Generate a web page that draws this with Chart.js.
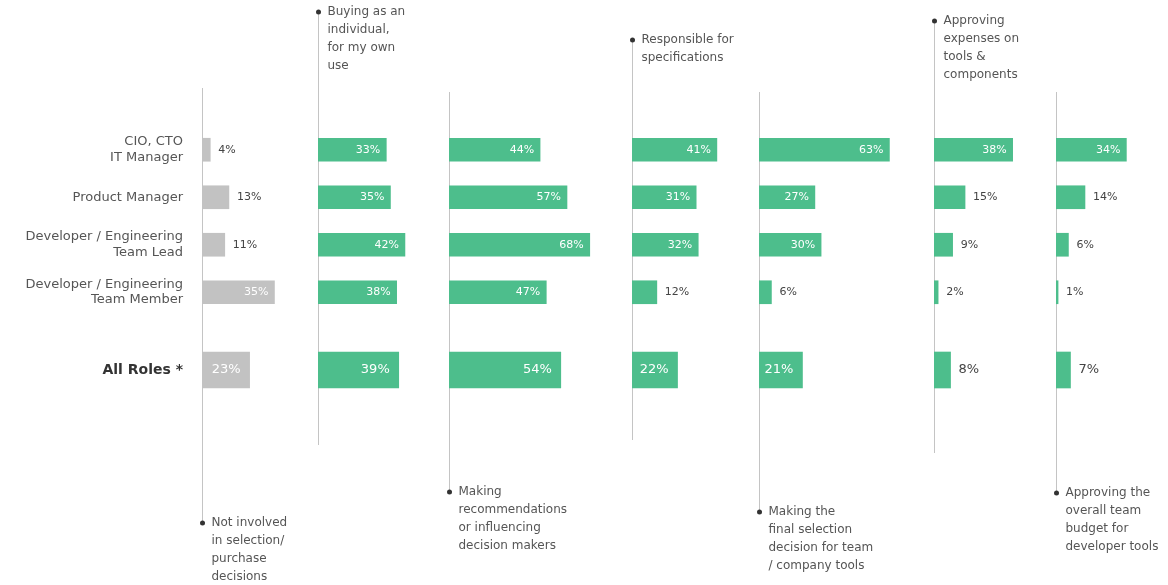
<!DOCTYPE html>
<html>
<head>
<meta charset="utf-8">
<script src="https://cdn.jsdelivr.net/npm/chart.js@4.4.1/dist/chart.umd.min.js"></script>
<style>
  html, body { margin: 0; padding: 0; background: #fff; }
</style>
</head>
<body>
<canvas id="chart" width="1168" height="585"></canvas>
<script>
// Rows (roles)
var roles = [['CIO, CTO', 'IT Manager'], 'Product Manager', ['Developer / Engineering', 'Team Lead'], ['Developer / Engineering', 'Team Member']];
var allRoles = ['All Roles *'];

// Columns (kind of involvement)
var involvement = [
  ['Not involved', 'in selection/', 'purchase', 'decisions'],
  ['Buying as an', 'individual,', 'for my own', 'use'],
  ['Making', 'recommendations', 'or influencing', 'decision makers'],
  ['Responsible for', 'specifications'],
  ['Making the', 'final selection', 'decision for team', '/ company tools'],
  ['Approving', 'expenses on', 'tools &', 'components'],
  ['Approving the', 'overall team', 'budget for', 'developer tools']
];

// Values in %, order: CIO/CTO, Product Manager, Team Lead, Team Member, All Roles
var notInvolved = [4, 13, 11, 35, 23];
var buying = [33, 35, 42, 38, 39];
var recommending = [44, 57, 68, 47, 54];
var specifying = [41, 31, 32, 12, 22];
var finalSelection = [63, 27, 30, 6, 21];
var approvingExpenses = [38, 15, 9, 2, 8];
var approvingBudget = [34, 14, 6, 1, 7];

var columns = [notInvolved, buying, recommending, specifying, finalSelection, approvingExpenses, approvingBudget];

// Layout
var colWidths = [116, 131, 183, 127, 175, 122, 112];
var pxPerPct = 2.07;
var green = '#4dbe8c';
var grey = '#c2c2c2';
// where each column's guide line and label go
var notes = [
  { side: 'bottom', from: 88, dot: 523 },
  { side: 'top', dot: 12, to: 445 },
  { side: 'bottom', from: 92, dot: 492 },
  { side: 'top', dot: 40, to: 440 },
  { side: 'bottom', from: 92, dot: 512 },
  { side: 'top', dot: 21, to: 453 },
  { side: 'bottom', from: 92, dot: 493 }
];

var font = '"DejaVu Sans", sans-serif';

var datasets = [];
var scales = {};
columns.forEach(function (vals, i) {
  var color = i === 0 ? grey : green;
  datasets.push({
    data: vals.slice(0, 4),
    xAxisID: 'x' + i,
    yAxisID: 'yRoles',
    backgroundColor: color,
    barThickness: 23,
    grouped: false
  });
  datasets.push({
    data: vals.slice(4),
    xAxisID: 'x' + i,
    yAxisID: 'yAll',
    backgroundColor: color,
    barThickness: 36,
    grouped: false
  });
  scales['x' + i] = {
    type: 'linear',
    position: 'bottom',
    stack: 'cols',
    stackWeight: colWidths[i],
    min: 0,
    max: colWidths[i] / pxPerPct,
    display: false
  };
});

scales.yRoles = {
  type: 'category',
  labels: roles,
  position: 'left',
  stack: 'rows',
  stackWeight: 190,
  weight: 2,
  grid: { display: false, drawTicks: false },
  border: { display: false },
  ticks: { autoSkip: false, padding: 19, color: '#555', font: { family: font, size: 13 } },
  afterFit: function (s) { s.width = 202; }
};
scales.yAll = {
  type: 'category',
  labels: allRoles,
  position: 'left',
  stack: 'rows',
  stackWeight: 108,
  weight: 1,
  grid: { display: false, drawTicks: false },
  border: { display: false },
  ticks: { autoSkip: false, padding: 19, color: '#333', font: { family: font, size: 14, weight: 'bold' } },
  afterFit: function (s) { s.width = 202; }
};

var annotations = {
  id: 'annotations',
  beforeDatasetsDraw: function (chart) {
    var ctx = chart.ctx;
    ctx.save();
    ctx.strokeStyle = '#c4c4c4';
    ctx.lineWidth = 1;
    notes.forEach(function (n, i) {
      var x = Math.round(chart.scales['x' + i].left) + 0.5;
      var y0 = n.side === 'top' ? n.dot : n.from;
      var y1 = n.side === 'top' ? n.to : n.dot;
      ctx.beginPath();
      ctx.moveTo(x, y0);
      ctx.lineTo(x, y1);
      ctx.stroke();
    });
    ctx.restore();
  },
  afterDatasetsDraw: function (chart) {
    var ctx = chart.ctx;
    ctx.save();
    ctx.textBaseline = 'middle';
    chart.data.datasets.forEach(function (ds, di) {
      var meta = chart.getDatasetMeta(di);
      var big = ds.yAxisID === 'yAll';
      meta.data.forEach(function (bar, j) {
        var v = ds.data[j];
        var txt = v + '%';
        ctx.font = (big ? '13px ' : '11px ') + font;
        if (v >= 20) {
          ctx.fillStyle = '#fff';
          ctx.textAlign = 'right';
          ctx.fillText(txt, bar.x - (big ? 9 : 6), bar.y);
        } else {
          ctx.fillStyle = '#444';
          ctx.textAlign = 'left';
          ctx.fillText(txt, bar.x + 8, bar.y);
        }
      });
    });
    ctx.restore();
  },
  afterDraw: function (chart) {
    var ctx = chart.ctx;
    ctx.save();
    notes.forEach(function (n, i) {
      var x = Math.round(chart.scales['x' + i].left) + 0.5;
      ctx.fillStyle = '#333';
      ctx.beginPath();
      ctx.arc(x, n.dot, 2.5, 0, Math.PI * 2);
      ctx.fill();
      ctx.fillStyle = '#555';
      ctx.font = '12px ' + font;
      ctx.textAlign = 'left';
      ctx.textBaseline = 'middle';
      involvement[i].forEach(function (line, k) {
        ctx.fillText(line, x + 9, n.dot + k * 17.8);
      });
    });
    ctx.restore();
  }
};

new Chart(document.getElementById('chart'), {
  type: 'bar',
  data: { datasets: datasets },
  options: {
    indexAxis: 'y',
    responsive: false,
    animation: false,
    layout: { padding: { top: 126, bottom: 161, left: 0, right: 0 } },
    scales: scales,
    plugins: {
      legend: { display: false },
      tooltip: { enabled: false }
    }
  },
  plugins: [annotations]
});
</script>
</body>
</html>
